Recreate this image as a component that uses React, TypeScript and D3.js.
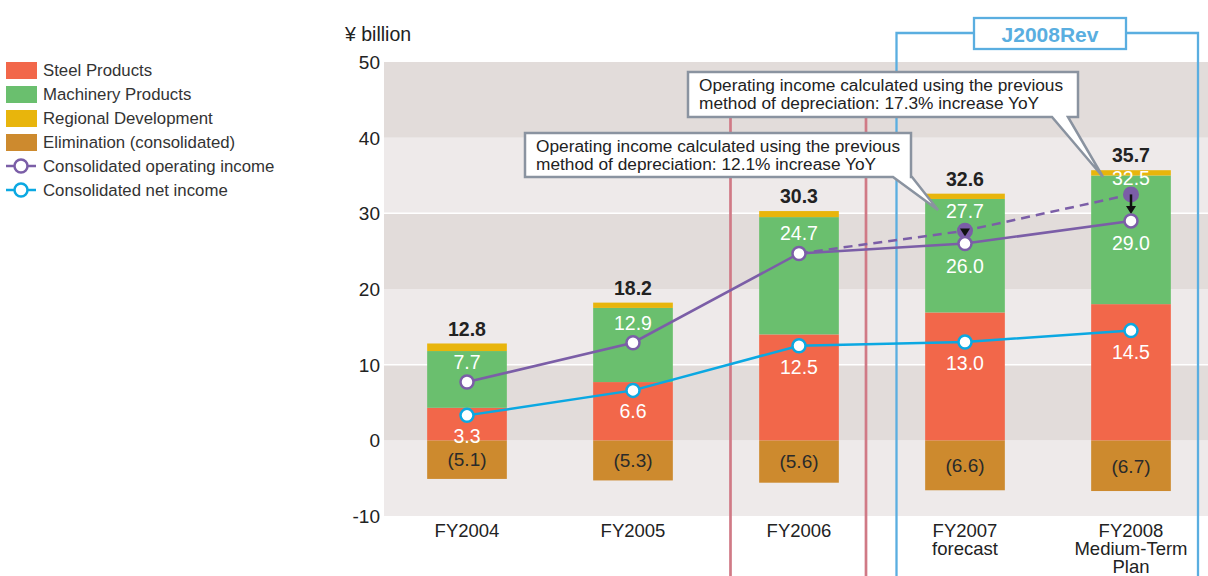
import React from "react";
import * as d3 from "d3";

const categories = ["FY2004", "FY2005", "FY2006", "FY2007", "FY2008"];
const xLabels = [["FY2004"], ["FY2005"], ["FY2006"], ["FY2007", "forecast"], ["FY2008", "Medium-Term", "Plan"]];
const steel = [4.3, 7.7, 14.0, 16.9, 18.0];
const machinery = [7.5, 9.8, 15.5, 15.0, 17.0];
const regional = [1.0, 0.7, 0.8, 0.7, 0.7];
const elimination = [-5.1, -5.3, -5.6, -6.6, -6.7];
const totals = [12.8, 18.2, 30.3, 32.6, 35.7];
const operatingIncome = [7.7, 12.9, 24.7, 26.0, 29.0];
const netIncome = [3.3, 6.6, 12.5, 13.0, 14.5];
const prevMethodIncome: (number | null)[] = [null, null, 24.7, 27.7, 32.5];
const opLabelSide = ["above", "above", "above", "below", "below"];
const yTicks = [-10, 0, 10, 20, 30, 40, 50];
const legendItems = [
  { label: "Steel Products", type: "rect", color: "#f2674a" },
  { label: "Machinery Products", type: "rect", color: "#6abf6e" },
  { label: "Regional  Development", type: "rect", color: "#e8b50c" },
  { label: "Elimination (consolidated)", type: "rect", color: "#cd8a2e" },
  { label: "Consolidated operating income", type: "line", color: "#7b5ea7" },
  { label: "Consolidated net income", type: "line", color: "#0ba8e2" },
];
const note1 = ["Operating income calculated using the previous", "method of depreciation: 12.1% increase YoY"];
const note2 = ["Operating income calculated using the previous", "method of depreciation: 17.3% increase YoY"];

const C = {
  steel: "#f2674a",
  mach: "#6abf6e",
  reg: "#e8b50c",
  elim: "#cd8a2e",
  purple: "#7b5ea7",
  cyan: "#0ba8e2",
  bandDark: "#e2dcda",
  bandLight: "#eeeaea",
  red: "#d07a86",
  blue: "#5aaee0",
  text: "#222",
  noteStroke: "#8a93a0",
};
const FONT = "'Liberation Sans', Arial, Helvetica, sans-serif";

export default function App() {
  const W = 1208, H = 576;
  const plotLeft = 384, plotRight = 1208;
  const x = d3.scaleBand<string>().domain(categories).range([384, 1214]).paddingInner(0.52).paddingOuter(0.26);
  const y = d3.scaleLinear().domain([-10, 50]).range([516, 62]);
  const bw = x.bandwidth();
  const cx = (i: number) => (x(categories[i]) as number) + bw / 2;

  const opLine = d3.line<number>().x((_, i) => cx(i)).y((d) => y(d));
  const prevPts = prevMethodIncome.map((v, i) => ({ v, i })).filter((d) => d.v !== null) as { v: number; i: number }[];
  const prevLine = d3.line<{ v: number; i: number }>().x((d) => cx(d.i)).y((d) => y(d.v));

  const bands = [] as { y0: number; y1: number; dark: boolean }[];
  for (let k = 0; k < yTicks.length - 1; k++) {
    bands.push({ y0: yTicks[k], y1: yTicks[k + 1], dark: (yTicks.length - 2 - k) % 2 === 0 });
  }

  const stacks = categories.map((_, i) => {
    const s0 = 0, s1 = steel[i], m1 = s1 + machinery[i], r1 = m1 + regional[i];
    return [
      { a: elimination[i], b: 0, c: C.elim },
      { a: s0, b: s1, c: C.steel },
      { a: s1, b: m1, c: C.mach },
      { a: m1, b: r1, c: C.reg },
    ];
  });

  const redX = [cx(2) - 68.5, cx(2) + 67];
  const blueL = cx(3) - 68.5, blueR = cx(4) + 67;

  const notePoly = (bx0: number, by0: number, bx1: number, by1: number, p0: number, p1: number, tx: number, ty: number) =>
    `M${bx0},${by0}H${bx1}V${by1}H${p1}L${tx},${ty}L${p0},${by1}H${bx0}Z`;

  const arrow = (i: number) => {
    const y0 = y(prevMethodIncome[i] as number);
    const y1 = y(operatingIncome[i]) - 7;
    const xx = cx(i);
    return (
      <g key={"ar" + i}>
        <line x1={xx} x2={xx} y1={y0} y2={y1 - 6} stroke="#111" strokeWidth={2.5} />
        <path d={`M${xx - 5},${y1 - 8}L${xx + 5},${y1 - 8}L${xx},${y1}Z`} fill="#111" />
      </g>
    );
  };

  return (
    <svg width={W} height={H} style={{ position: "absolute", left: 0, top: 0, background: "#fff" }} fontFamily={FONT}>
      {/* background bands */}
      {bands.map((b, k) => (
        <rect key={k} x={plotLeft} width={plotRight - plotLeft} y={y(b.y1)} height={y(b.y0) - y(b.y1)} fill={b.dark ? C.bandDark : C.bandLight} />
      ))}
      {[10, 30].map((t) => (
        <line key={t} x1={plotLeft} x2={plotRight} y1={y(t)} y2={y(t)} stroke="#fff" strokeWidth={1.5} />
      ))}
      {/* y axis labels */}
      {yTicks.map((t) => (
        <text key={t} x={380} y={y(t)} dy="0.36em" textAnchor="end" fontSize={19} fill={C.text}>{t}</text>
      ))}
      <text x={345} y={41} fontSize={19.5} fill={C.text}>¥ billion</text>

      {/* red lines */}
      {redX.map((rx, k) => (
        <line key={k} x1={rx} x2={rx} y1={105} y2={H} stroke={C.red} strokeWidth={2.7} />
      ))}
      {/* blue frame */}
      <path d={`M${blueL},${H}V33H${blueR}V${H}`} fill="none" stroke={C.blue} strokeWidth={2.3} />
      <rect x={974} y={18} width={152} height={31} fill="#fff" stroke={C.blue} strokeWidth={2.3} />
      <text x={1050} y={41.5} textAnchor="middle" fontSize={21} fontWeight="bold" fill={C.blue}>J2008Rev</text>

      {/* bars */}
      {stacks.map((st, i) => (
        <g key={i}>
          {st.map((s, k) => (
            <rect key={k} x={x(categories[i])} width={bw} y={y(Math.max(s.a, s.b))} height={Math.abs(y(s.a) - y(s.b))} fill={s.c} />
          ))}
          <text x={cx(i)} y={y(elimination[i] / 2)} dy="0.36em" textAnchor="middle" fontSize={19} fill="#2a2a2a">
            ({Math.abs(elimination[i]).toFixed(1)})
          </text>
          <text x={cx(i)} y={y(steel[i] + machinery[i] + regional[i]) - 15} dy="0.36em" textAnchor="middle" fontSize={19.5} fontWeight="bold" fill={C.text}>
            {totals[i].toFixed(1)}
          </text>
        </g>
      ))}

      {/* lines */}
      <path d={prevLine(prevPts) || ""} fill="none" stroke={C.purple} strokeWidth={2.5} strokeDasharray="9,6" />
      <path d={opLine(operatingIncome) || ""} fill="none" stroke={C.purple} strokeWidth={2.5} />
      <path d={opLine(netIncome) || ""} fill="none" stroke={C.cyan} strokeWidth={2.5} />
      {prevPts.filter((d) => d.i > 2).map((d) => (
        <circle key={"pc" + d.i} cx={cx(d.i)} cy={y(d.v)} r={8} fill={C.purple} />
      ))}
      {[3, 4].map(arrow)}
      {operatingIncome.map((v, i) => (
        <circle key={"oc" + i} cx={cx(i)} cy={y(v)} r={6.5} fill="#fff" stroke={C.purple} strokeWidth={2.5} />
      ))}
      {netIncome.map((v, i) => (
        <circle key={"nc" + i} cx={cx(i)} cy={y(v)} r={6.5} fill="#fff" stroke={C.cyan} strokeWidth={2.5} />
      ))}

      {/* value labels */}
      {operatingIncome.map((v, i) => (
        <text key={"ol" + i} x={cx(i)} y={y(v) + (opLabelSide[i] === "above" ? -20 : 22)} dy="0.36em" textAnchor="middle" fontSize={19.5} fill="#fff">
          {v.toFixed(1)}
        </text>
      ))}
      {netIncome.map((v, i) => (
        <text key={"nl" + i} x={cx(i)} y={y(v) + 21} dy="0.36em" textAnchor="middle" fontSize={19.5} fill="#fff">
          {v.toFixed(1)}
        </text>
      ))}
      {prevPts.filter((d) => d.i > 2).map((d) => (
        <text key={"pl" + d.i} x={cx(d.i)} y={y(d.v) - (d.i === 4 ? 16 : 20)} dy="0.36em" textAnchor="middle" fontSize={19.5} fill="#fff">
          {d.v.toFixed(1)}
        </text>
      ))}

      {/* x labels */}
      {xLabels.map((lines, i) => (
        <text key={"xl" + i} x={cx(i)} y={537} textAnchor="middle" fontSize={18.5} fill={C.text}>
          {lines.map((l, k) => (
            <tspan key={k} x={cx(i)} dy={k === 0 ? 0 : 18}>{l}</tspan>
          ))}
        </text>
      ))}

      {/* notes */}
      <path d={notePoly(525, 133, 911, 177, 893, 912, 938, 210)} fill="#fff" stroke={C.noteStroke} strokeWidth={2.5} strokeLinejoin="miter" />
      {note1.map((l, k) => (
        <text key={"n1" + k} x={536} y={152 + k * 18} fontSize={17.3} fill={C.text}>{l}</text>
      ))}
      <path d={notePoly(688, 72, 1078, 117, 1052, 1068, 1103, 177)} fill="#fff" stroke={C.noteStroke} strokeWidth={2.5} />
      {note2.map((l, k) => (
        <text key={"n2" + k} x={699} y={91 + k * 18} fontSize={17.3} fill={C.text}>{l}</text>
      ))}

      {/* legend */}
      {legendItems.map((it, k) => {
        const ly = 70 + k * 24;
        return (
          <g key={"lg" + k}>
            {it.type === "rect" ? (
              <rect x={6} y={ly - 8} width={31} height={17} fill={it.color} />
            ) : (
              <g>
                <line x1={6} x2={36} y1={ly} y2={ly} stroke={it.color} strokeWidth={2.5} />
                <circle cx={21} cy={ly} r={6.5} fill="#fff" stroke={it.color} strokeWidth={2.5} />
              </g>
            )}
            <text x={43} y={ly} dy="0.36em" fontSize={16.8} fill="#333">{it.label}</text>
          </g>
        );
      })}
    </svg>
  );
}
